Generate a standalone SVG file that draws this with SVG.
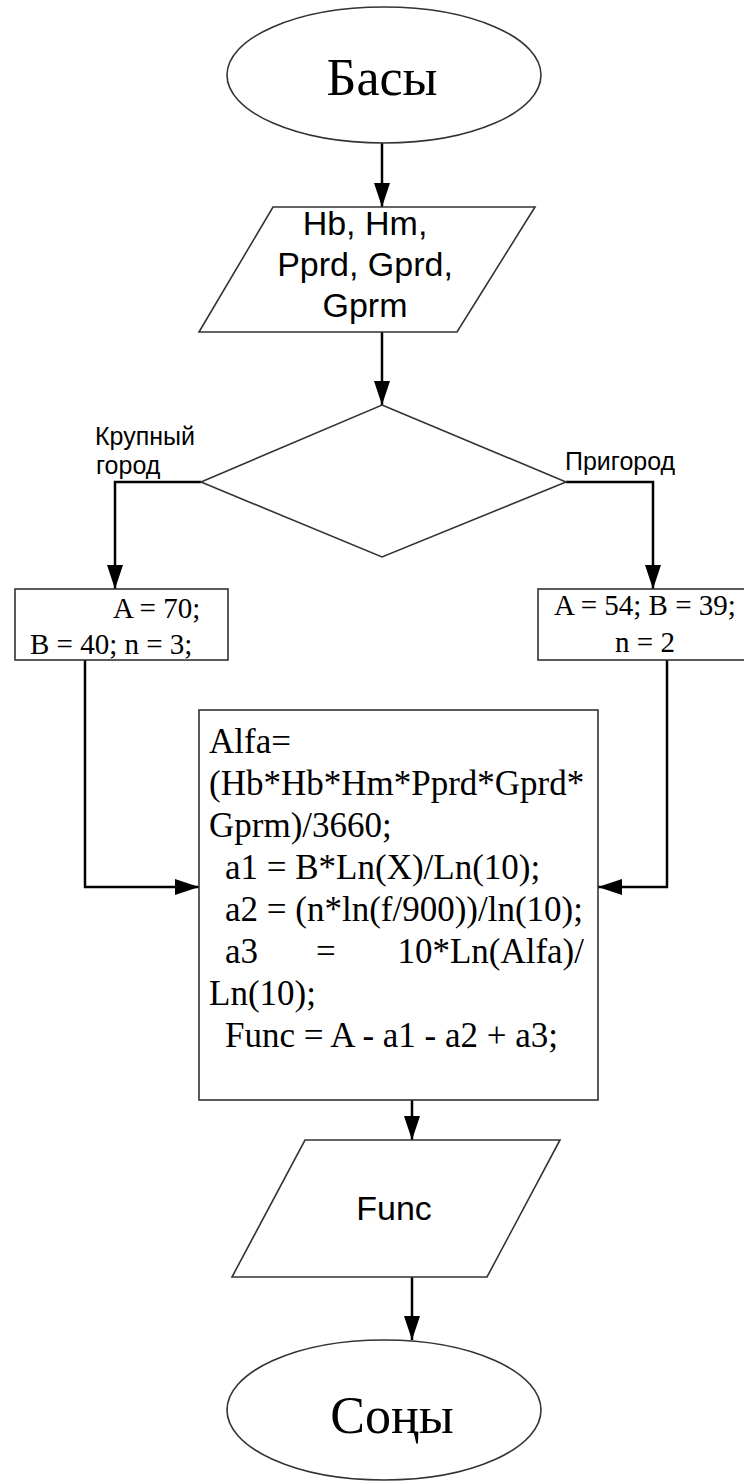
<svg xmlns="http://www.w3.org/2000/svg" width="744" height="1481" viewBox="0 0 744 1481">
<defs>
<marker id="ah" viewBox="0 0 24 16" refX="24" refY="8" markerWidth="24" markerHeight="16" markerUnits="userSpaceOnUse" orient="auto">
<path d="M0,0 L24,8 L0,16 z" fill="#000"/>
</marker>
</defs>
<style>
.shape{fill:#fff;stroke:#333;stroke-width:1.6}
.conn{fill:none;stroke:#000;stroke-width:2.5;marker-end:url(#ah)}
.serif{font-family:"Liberation Serif","Times New Roman",serif;fill:#000}
.sans{font-family:"Liberation Sans",Arial,sans-serif;fill:#000}
.big{font-size:52px}
.mid{font-size:34px}
.box{font-size:29px}
.code{font-size:35px}
.lbl{font-size:25px}
</style>
<rect width="744" height="1481" fill="#fff"/>
<g id="connectors">
<path class="conn" d="M382,143 L382,207"/>
<path class="conn" d="M382,332 L382,405"/>
<path class="conn" d="M201,482 L115,482 L115,589"/>
<path class="conn" d="M566,482 L653,482 L653,589"/>
<path class="conn" d="M85,660 L85,887 L199,887"/>
<path class="conn" d="M667,660 L667,887 L598,887"/>
<path class="conn" d="M412,1100 L412,1140"/>
<path class="conn" d="M412,1277 L412,1340"/>
</g>
<g id="start">
<ellipse class="shape" cx="384" cy="75" rx="157" ry="68"/>
<text class="serif big" x="382" y="95" text-anchor="middle">Басы</text>
</g>
<g id="input">
<polygon class="shape" points="273,207 535,207 457,332 199,332"/>
<text class="sans mid" x="365" y="235" text-anchor="middle">Hb, Hm,</text>
<text class="sans mid" x="365" y="276" text-anchor="middle">Pprd, Gprd,</text>
<text class="sans mid" x="365" y="317" text-anchor="middle">Gprm</text>
</g>
<g id="decision">
<polygon class="shape" points="382,405 566,482 382,557 201,482"/>
<text class="sans lbl" x="95" y="445">Крупный</text>
<text class="sans lbl" x="96" y="474">город</text>
<text class="sans lbl" x="565" y="470">Пригород</text>
</g>
<g id="big-city">
<rect class="shape" x="15" y="589" width="213" height="71"/>
<text class="serif box" x="113" y="618">A = 70;</text>
<text class="serif box" x="30" y="654">B = 40; n = 3;</text>
</g>
<g id="suburb">
<rect class="shape" x="538" y="589" width="214" height="71"/>
<text class="serif box" x="645" y="615" text-anchor="middle">A = 54; B = 39;</text>
<text class="serif box" x="645" y="652" text-anchor="middle">n = 2</text>
</g>
<g id="calc">
<rect class="shape" x="199" y="710" width="399" height="390"/>
<text class="serif code" x="209" y="753">Alfa=</text>
<text class="serif code" x="209" y="795">(Hb*Hb*Hm*Pprd*Gprd*</text>
<text class="serif code" x="209" y="837">Gprm)/3660;</text>
<text class="serif code" x="225" y="879">a1 = B*Ln(X)/Ln(10);</text>
<text class="serif code" x="225" y="921">a2 = (n*ln(f/900))/ln(10);</text>
<text class="serif code" x="225" y="963">a3</text>
<text class="serif code" x="316" y="963">=</text>
<text class="serif code" x="584" y="963" text-anchor="end">10*Ln(Alfa)/</text>
<text class="serif code" x="209" y="1005">Ln(10);</text>
<text class="serif code" x="225" y="1047">Func = A - a1 - a2 + a3;</text>
</g>
<g id="output">
<polygon class="shape" points="305,1140 560,1140 487,1277 232,1277"/>
<text class="sans mid" x="394" y="1220" text-anchor="middle">Func</text>
</g>
<g id="end">
<ellipse class="shape" cx="384" cy="1410" rx="157" ry="70"/>
<text class="serif big" x="392" y="1433" text-anchor="middle">Соңы</text>
</g>
</svg>
